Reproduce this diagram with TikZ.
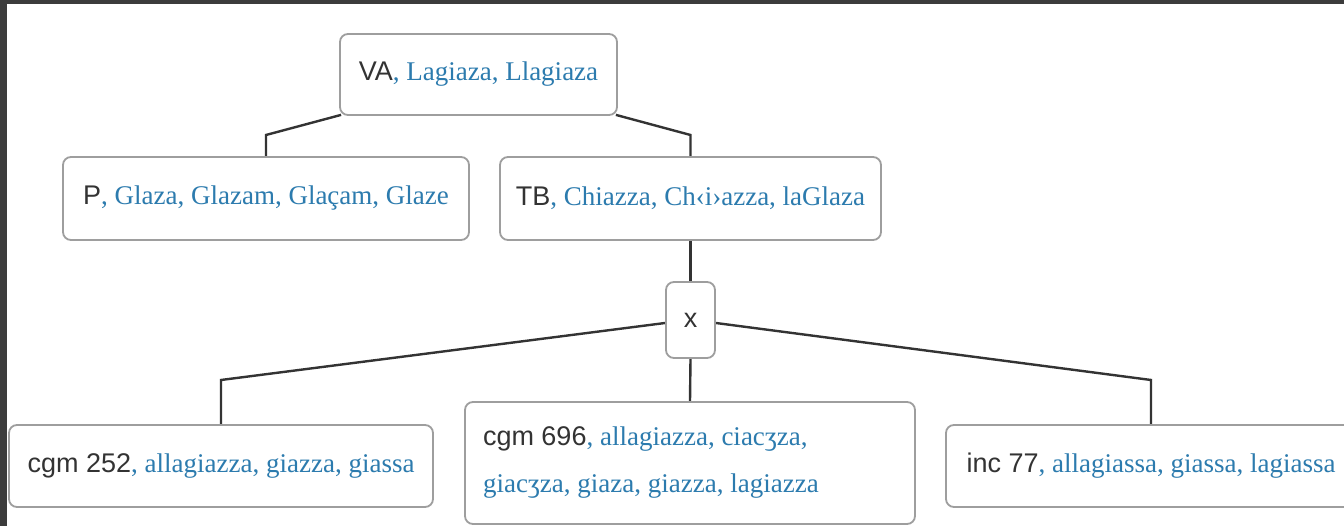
\documentclass[tikz,border=0pt]{standalone}
\usepackage{fontspec}
\setmainfont{Liberation Serif}
\newfontfamily\labfont{Liberation Sans}
\newfontfamily\formfont{Liberation Serif}
\definecolor{frame}{HTML}{3C3C3C}
\definecolor{labgray}{HTML}{333333}
\definecolor{formblue}{HTML}{2C7BAE}
\definecolor{boxline}{HTML}{9E9E9E}
\definecolor{wire}{HTML}{333333}
\newcommand{\lab}[1]{{\labfont\color{labgray}#1}}
\newcommand{\frm}[1]{{\formfont\color{formblue}#1}}
\pgfdeclarelayer{canvas}
\pgfdeclarelayer{wires}
\pgfsetlayers{canvas,wires,main}
\tikzset{
  witness/.style={draw=boxline, line width=1.8pt, rounded corners=8pt, fill=white,
    inner sep=0pt, font=\fontsize{27}{33}\selectfont},
  link/.style={draw=wire, line width=2.4pt, line join=miter}
}
\begin{document}
\begin{tikzpicture}[x=1pt,y=1pt]
  \useasboundingbox (0,0) rectangle (1344,526);
  % page frame and white canvas
  \begin{pgfonlayer}{canvas}
    \fill[frame] (0,0) rectangle (1344,526);
    \fill[white] (7,0) rectangle (1344,522);
  \end{pgfonlayer}

  % witnesses
  \node[witness, minimum width=277, minimum height=81] (va) at (478.5,451.5)
    {\lab{VA}\frm{, Lagiaza, Llagiaza}};
  \node[witness, minimum width=406, minimum height=83] (p) at (266,327.5)
    {\lab{P}\frm{, Glaza, Glazam, Glaçam, Glaze}};
  \node[witness, minimum width=381, minimum height=83] (tb) at (690.5,327.5)
    {\lab{TB}\frm{, Chiazza, Ch‹i›azza, laGlaza}};
  \node[witness, minimum width=49, minimum height=76] (x) at (690.5,206)
    {\lab{x}};
  \node[witness, minimum width=424, minimum height=82] (c252) at (221,60)
    {\lab{cgm 252}\frm{, allagiazza, giazza, giassa}};
  \node[witness, minimum height=122, inner xsep=18pt, text width=414pt, align=flush left,
        font=\fontsize{27}{47}\selectfont] (c696) at (690,63)
    {\lab{cgm 696}\frm{, allagiazza, ciacʒza,}\\\frm{giacʒza, giaza, giazza, lagiazza}};
  \node[witness, minimum width=410, minimum height=82] (inc) at (1151,60)
    {\lab{inc 77}\frm{, allagiassa, giassa, lagiassa}};

  % stemma connectors
  \begin{pgfonlayer}{wires}
    \draw[link] ([shift={(2,1)}]va.south west) -- (p.north |- 0,391) -- (p.north);
    \draw[link] ([shift={(-2,1)}]va.south east) -- (tb.north |- 0,391) -- (tb.north);
    \draw[link] (tb.south) -- (x.north);
    \draw[link] ([yshift=-3]x.west) -- (c252.north |- 0,146) -- (c252.north);
    \draw[link] ([yshift=-3]x.east) -- (inc.north |- 0,146) -- (inc.north);
    \draw[link] (x.south) -- (c696.north);
  \end{pgfonlayer}
\end{tikzpicture}
\end{document}
